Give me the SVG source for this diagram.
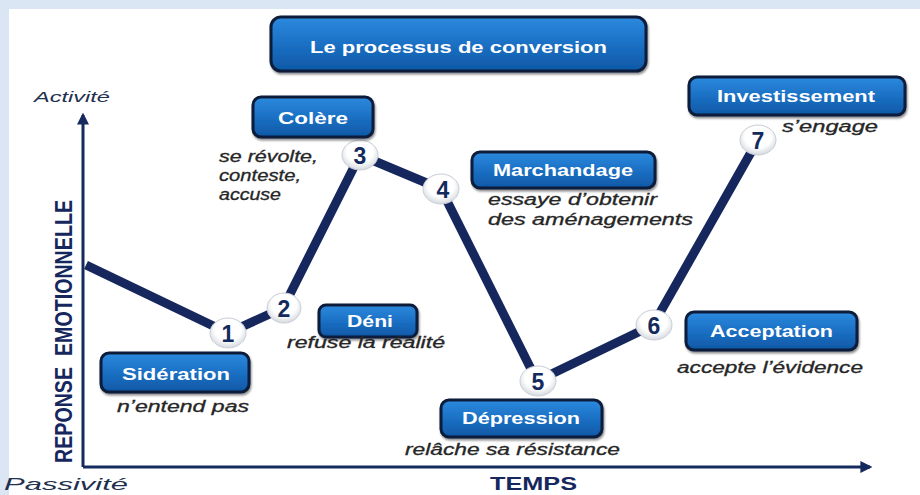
<svg xmlns="http://www.w3.org/2000/svg" width="920" height="495" viewBox="0 0 920 495">
  <defs>
    <linearGradient id="boxFill" x1="0" y1="0" x2="0" y2="1">
      <stop offset="0" stop-color="#2c8ade"/>
      <stop offset="0.5" stop-color="#1b70c4"/>
      <stop offset="1" stop-color="#0f58a6"/>
    </linearGradient>
    <radialGradient id="dotFill" cx="0.5" cy="0.4" r="0.6">
      <stop offset="0.6" stop-color="#ffffff"/>
      <stop offset="1" stop-color="#d4d8de"/>
    </radialGradient>
    <marker id="arrowHead" viewBox="0 0 10 10" refX="8" refY="5" markerWidth="4" markerHeight="4" orient="auto">
      <path d="M0,0 L10,5 L0,10 z" fill="#152a5e"/>
    </marker>
    <filter id="shadow" x="-10%" y="-20%" width="120%" height="150%">
      <feDropShadow dx="1" dy="2" stdDeviation="1.2" flood-color="#000" flood-opacity="0.45"/>
    </filter>
  </defs>
  <style>
    .box { fill: url(#boxFill); stroke: #0b1d3a; stroke-width: 3; filter: url(#shadow); }
    .boxText { font-family: "Liberation Sans", Arial, sans-serif; font-weight: bold; font-size: 17px; fill: #ffffff; text-anchor: start; }
    .note { font-family: "Liberation Sans", Arial, sans-serif; font-style: italic; font-size: 16px; fill: #262626; stroke: #262626; stroke-width: 0.3; }
    .axisLabel { font-family: "Liberation Sans", Arial, sans-serif; font-style: italic; fill: #1f3050; }
    .dot { fill: url(#dotFill); stroke: #c9ced6; stroke-width: 1; }
    .num { font-family: "Liberation Sans", Arial, sans-serif; font-weight: bold; font-size: 23px; fill: #142a5c; text-anchor: middle; }
    .curve { fill: none; stroke: #16275e; stroke-width: 9; stroke-linejoin: round; }
    .axis { stroke: #152a5e; stroke-width: 3; fill: none; }
  </style>

  <!-- page background -->
  <rect x="0" y="0" width="920" height="495" fill="#dbe6f4"/>
  <rect x="9" y="9" width="911" height="486" fill="#ffffff"/>

  <!-- axes and curve -->
  <g id="connectors">
    <line class="axis" x1="83" y1="467" x2="83" y2="115" marker-end="url(#arrowHead)"/>
    <line class="axis" x1="83" y1="467" x2="870" y2="467" marker-end="url(#arrowHead)"/>
    <polyline class="curve" points="86,265 228,333 283,308 360,155 441,189 537,381 653,325 758,140"/>
  </g>

  <!-- axis labels -->
  <g id="axis-labels">
    <text class="axisLabel" x="34" y="102" font-size="15" textLength="76" lengthAdjust="spacingAndGlyphs">Activité</text>
    <text class="axisLabel" x="4" y="490" font-size="17" textLength="124" lengthAdjust="spacingAndGlyphs">Passivité</text>
    <text x="490" y="490" font-family="Liberation Sans, Arial, sans-serif" font-weight="bold" font-size="19" fill="#16275e" textLength="87" lengthAdjust="spacingAndGlyphs">TEMPS</text>
    <text transform="translate(72,463) rotate(-90)" font-family="Liberation Sans, Arial, sans-serif" font-weight="bold" font-size="23" fill="#16275e" textLength="263" lengthAdjust="spacingAndGlyphs" xml:space="preserve">REPONSE  EMOTIONNELLE</text>
  </g>

  <!-- title -->
  <g id="title">
    <rect class="box" x="271" y="17" width="375" height="54" rx="10"/>
    <text class="boxText" x="310" y="53" font-size="20" textLength="297" lengthAdjust="spacingAndGlyphs">Le processus de conversion</text>
  </g>

  <!-- stage markers -->
  <g id="step-1">
    <ellipse class="dot" cx="228" cy="333" rx="18" ry="15"/>
    <text class="num" x="228" y="342">1</text>
  </g>
  <g id="step-2">
    <ellipse class="dot" cx="284" cy="308" rx="17" ry="15"/>
    <text class="num" x="284" y="317">2</text>
  </g>
  <g id="step-3">
    <ellipse class="dot" cx="360" cy="155" rx="18" ry="15"/>
    <text class="num" x="360" y="164">3</text>
  </g>
  <g id="step-4">
    <ellipse class="dot" cx="441" cy="189" rx="18" ry="15"/>
    <text class="num" x="443" y="198">4</text>
  </g>
  <g id="step-5">
    <ellipse class="dot" cx="538" cy="381" rx="18" ry="15"/>
    <text class="num" x="538" y="390">5</text>
  </g>
  <g id="step-6">
    <ellipse class="dot" cx="654" cy="325" rx="18" ry="15"/>
    <text class="num" x="654" y="334">6</text>
  </g>
  <g id="step-7">
    <ellipse class="dot" cx="758" cy="140" rx="18" ry="15"/>
    <text class="num" x="758" y="149">7</text>
  </g>

  <!-- stage labels -->
  <g id="sideration">
    <rect class="box" x="101" y="353" width="148" height="39" rx="8"/>
    <text class="boxText" x="122" y="380" textLength="108" lengthAdjust="spacingAndGlyphs">Sidération</text>
    <text class="note" x="117" y="412" textLength="132" lengthAdjust="spacingAndGlyphs">n’entend pas</text>
  </g>
  <g id="deni">
    <rect class="box" x="319" y="305" width="98" height="32" rx="7"/>
    <text class="boxText" x="347" y="327" textLength="46" lengthAdjust="spacingAndGlyphs">Déni</text>
    <text class="note" x="287" y="348" textLength="158" lengthAdjust="spacingAndGlyphs">refuse la réalité</text>
  </g>
  <g id="colere">
    <rect class="box" x="253" y="97" width="120" height="40" rx="8"/>
    <text class="boxText" x="278" y="124" textLength="70" lengthAdjust="spacingAndGlyphs">Colère</text>
    <text class="note" x="219" y="162" textLength="99" lengthAdjust="spacingAndGlyphs">se révolte,</text>
    <text class="note" x="219" y="181" textLength="82" lengthAdjust="spacingAndGlyphs">conteste,</text>
    <text class="note" x="219" y="200" textLength="62" lengthAdjust="spacingAndGlyphs">accuse</text>
  </g>
  <g id="marchandage">
    <rect class="box" x="472" y="152" width="183" height="36" rx="8"/>
    <text class="boxText" x="493" y="176" textLength="140" lengthAdjust="spacingAndGlyphs">Marchandage</text>
    <text class="note" x="488" y="205" textLength="169" lengthAdjust="spacingAndGlyphs">essaye d’obtenir</text>
    <text class="note" x="488" y="225" textLength="205" lengthAdjust="spacingAndGlyphs">des aménagements</text>
  </g>
  <g id="depression">
    <rect class="box" x="441" y="400" width="161" height="37" rx="8"/>
    <text class="boxText" x="462" y="424" textLength="118" lengthAdjust="spacingAndGlyphs">Dépression</text>
    <text class="note" x="405" y="455" textLength="215" lengthAdjust="spacingAndGlyphs">relâche sa résistance</text>
  </g>
  <g id="acceptation">
    <rect class="box" x="686" y="312" width="171" height="38" rx="8"/>
    <text class="boxText" x="710" y="337" textLength="123" lengthAdjust="spacingAndGlyphs">Acceptation</text>
    <text class="note" x="677" y="373" textLength="186" lengthAdjust="spacingAndGlyphs">accepte l’évidence</text>
  </g>
  <g id="investissement">
    <rect class="box" x="689" y="77" width="216" height="38" rx="8"/>
    <text class="boxText" x="717" y="102" textLength="158" lengthAdjust="spacingAndGlyphs">Investissement</text>
    <text class="note" x="782" y="132" textLength="96" lengthAdjust="spacingAndGlyphs">s’engage</text>
  </g>
</svg>
